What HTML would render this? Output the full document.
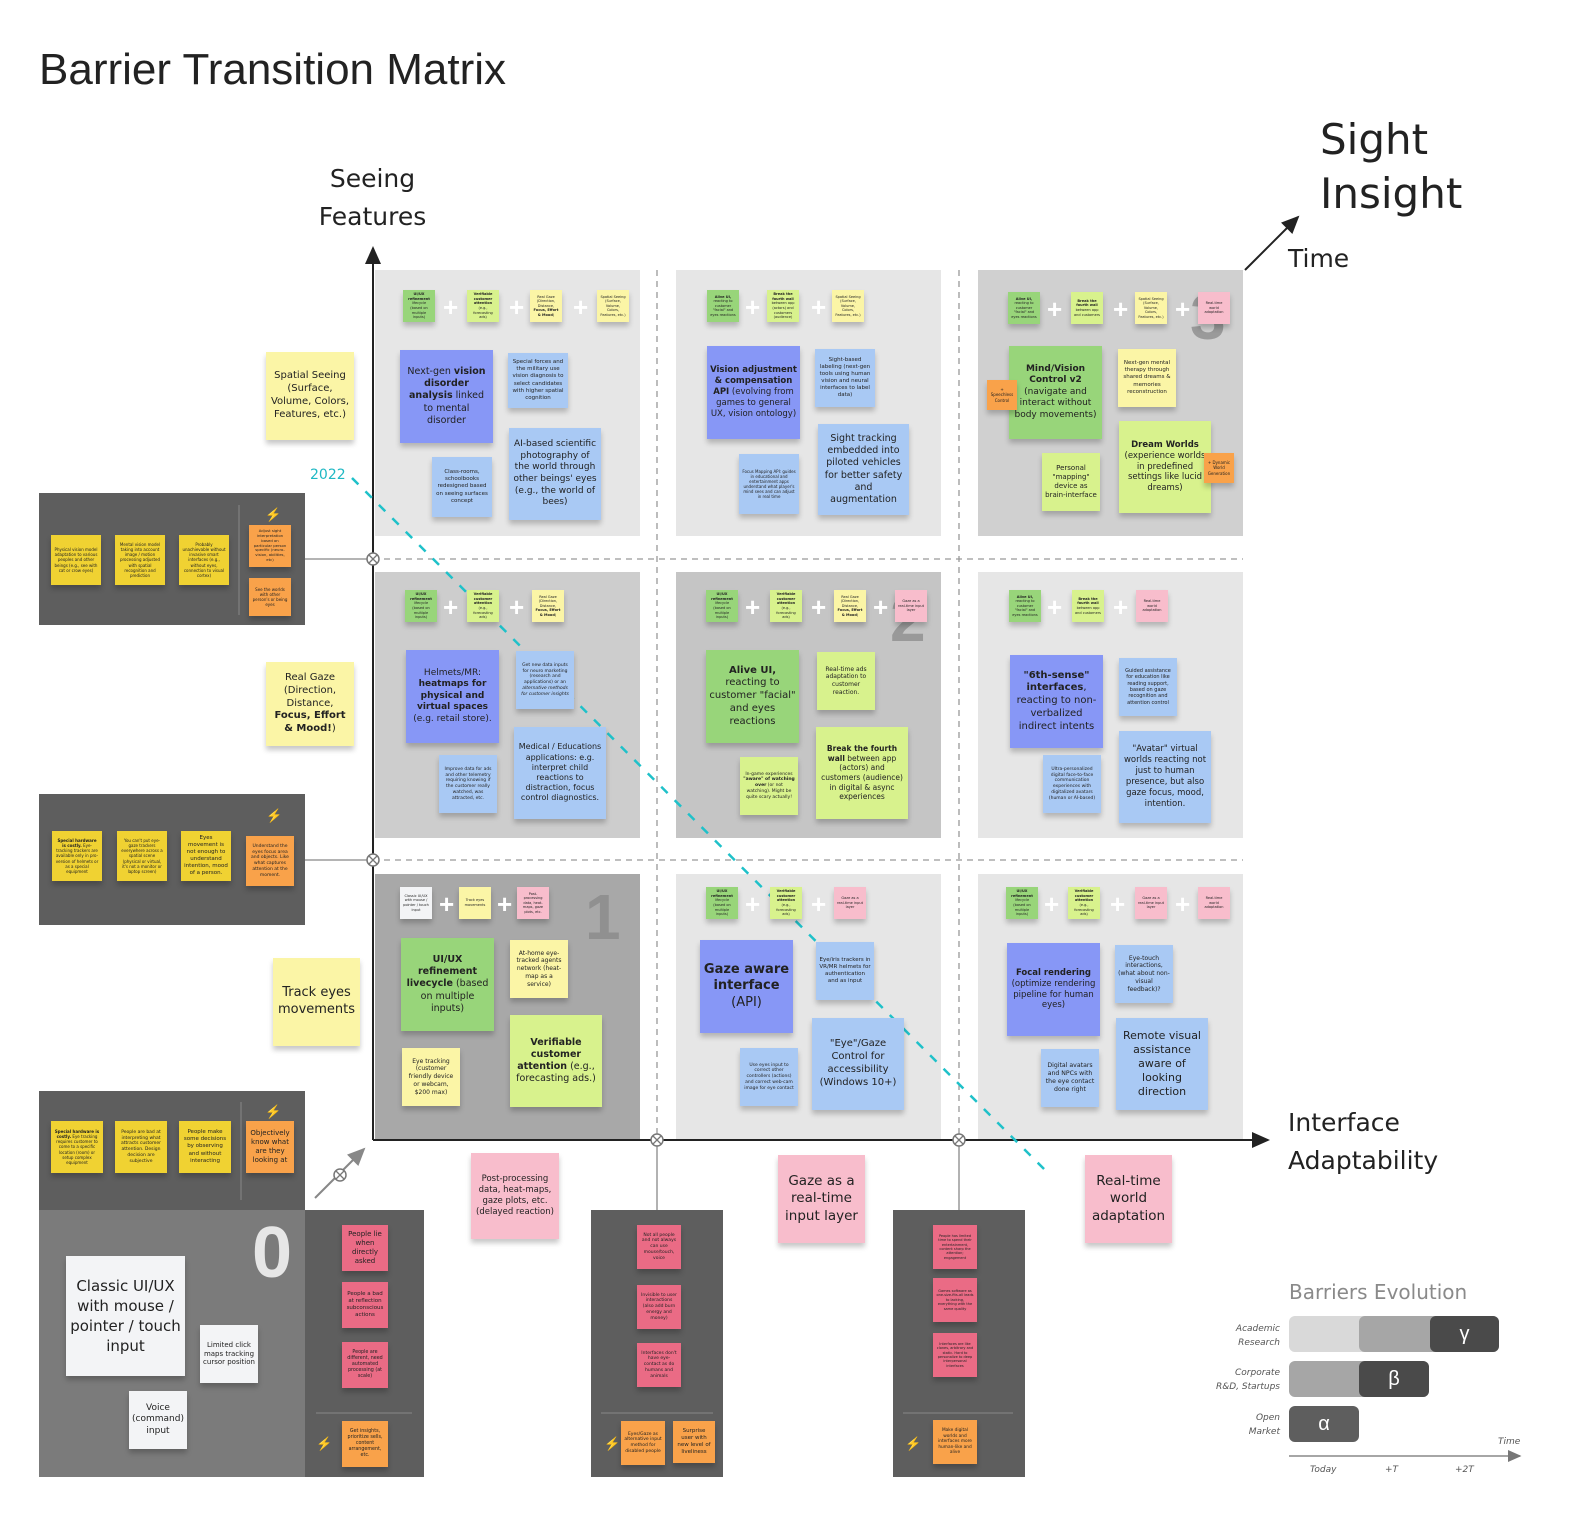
<!DOCTYPE html>
<html><head><meta charset="utf-8"><style>
html,body{margin:0;padding:0;width:1580px;height:1533px;overflow:hidden;background:#fff}
#w{position:relative;width:1580px;height:1533px;overflow:hidden;font-family:"Liberation Sans",sans-serif}
.a{position:absolute}
.p{position:absolute}
.n{position:absolute;display:flex;align-items:center;justify-content:center;text-align:center;box-shadow:0 4px 5px rgba(0,0,0,.22);color:#222;line-height:1.28;padding:3px;box-sizing:border-box;overflow:hidden;font-family:"DejaVu Sans","Liberation Sans",sans-serif}
.n>span{display:block;width:100%}
.m{width:32px;height:32px;font-size:3.5px;line-height:1.3}
.V{background:#8797f6}.B{background:#a9c9f4}.G{background:#98d57a}.L{background:#d8f28d}.Y{background:#fbf5a6}.P{background:#f8bdcc}.R{background:#ea6b85}.O{background:#f9a24a}.D{background:#f0d232}.W{background:#f3f4f6}
.pl{position:absolute;color:#fff;font-size:26px;font-weight:bold;line-height:1}
.num{position:absolute;font-size:64px;font-weight:bold;color:#8a8a8a;font-family:"Liberation Sans",sans-serif}
.bolt{position:absolute;color:#f58a2a;font-size:13px}
.t{position:absolute;color:#222;font-family:"DejaVu Sans","Liberation Sans",sans-serif;white-space:nowrap}
</style></head><body><div id="w">

<div class="p" style="left:375px;top:270px;width:265px;height:266px;background:#e6e6e6"></div>
<div class="p" style="left:676px;top:270px;width:265px;height:266px;background:#e6e6e6"></div>
<div class="p" style="left:978px;top:270px;width:265px;height:266px;background:#d0d0d0"></div>
<div class="p" style="left:375px;top:572px;width:265px;height:266px;background:#cdcdcd"></div>
<div class="p" style="left:676px;top:572px;width:265px;height:266px;background:#c5c5c5"></div>
<div class="p" style="left:978px;top:572px;width:265px;height:266px;background:#e6e6e6"></div>
<div class="p" style="left:375px;top:874px;width:265px;height:266px;background:#a8a8a8"></div>
<div class="p" style="left:676px;top:874px;width:265px;height:266px;background:#e6e6e6"></div>
<div class="p" style="left:978px;top:874px;width:265px;height:266px;background:#e6e6e6"></div>

<div class="p" style="left:39px;top:493px;width:266px;height:132px;background:#5e5e5e"></div>
<div class="p" style="left:39px;top:794px;width:266px;height:131px;background:#5e5e5e"></div>
<div class="p" style="left:39px;top:1091px;width:266px;height:119px;background:#5e5e5e"></div>
<div class="p" style="left:39px;top:1210px;width:266px;height:267px;background:#7b7b7b"></div>
<div class="p" style="left:305px;top:1210px;width:119px;height:267px;background:#5e5e5e"></div>
<div class="p" style="left:591px;top:1210px;width:132px;height:267px;background:#5e5e5e"></div>
<div class="p" style="left:893px;top:1210px;width:132px;height:267px;background:#5e5e5e"></div>

<svg class="a" style="left:0;top:0" width="1580" height="1533">
<defs><marker id="ar" markerWidth="10" markerHeight="10" refX="8" refY="5" orient="auto"><path d="M0,1 L9,5 L0,9 z" fill="#222"/></marker>
<marker id="ag" markerWidth="10" markerHeight="10" refX="8" refY="5" orient="auto"><path d="M0,1 L9,5 L0,9 z" fill="#888"/></marker>
<marker id="ag2" markerWidth="10" markerHeight="10" refX="8" refY="5" orient="auto"><path d="M0,1 L9,5 L0,9 z" fill="#777"/></marker></defs>
<line x1="373" y1="1140" x2="373" y2="248" stroke="#222" stroke-width="2" marker-end="url(#ar)"/>
<line x1="373" y1="1140" x2="1268" y2="1140" stroke="#222" stroke-width="2" marker-end="url(#ar)"/>
<g stroke="#999" stroke-width="1.3" stroke-dasharray="6,5">
<line x1="373" y1="559" x2="1243" y2="559"/><line x1="373" y1="860" x2="1243" y2="860"/>
<line x1="657" y1="270" x2="657" y2="1140"/><line x1="959" y1="270" x2="959" y2="1140"/></g>
<line x1="373" y1="559" x2="305" y2="559" stroke="#888" stroke-width="1.3"/>
<line x1="373" y1="860" x2="305" y2="860" stroke="#888" stroke-width="1.3"/>
<line x1="657" y1="1140" x2="657" y2="1210" stroke="#888" stroke-width="1.3"/>
<line x1="959" y1="1140" x2="959" y2="1210" stroke="#888" stroke-width="1.3"/>
<line x1="315" y1="1198" x2="364" y2="1149" stroke="#888" stroke-width="2" marker-end="url(#ag)"/>
<line x1="352" y1="478" x2="1045" y2="1170" stroke="#1fc1c9" stroke-width="2.5" stroke-dasharray="9,10"/>
<line x1="1245" y1="270" x2="1298" y2="217" stroke="#222" stroke-width="2" marker-end="url(#ar)"/>
<g fill="#fff" stroke="#777" stroke-width="1.5">
<circle cx="373" cy="559" r="6"/><circle cx="373" cy="860" r="6"/><circle cx="657" cy="1140" r="6"/><circle cx="959" cy="1140" r="6"/><circle cx="340" cy="1175" r="6"/></g>
<g stroke="#777" stroke-width="1.3">
<path d="M369,555 l8,8 M377,555 l-8,8"/><path d="M369,856 l8,8 M377,856 l-8,8"/><path d="M653,1136 l8,8 M661,1136 l-8,8"/><path d="M955,1136 l8,8 M963,1136 l-8,8"/><path d="M336,1171 l8,8 M344,1171 l-8,8"/></g>
<line x1="239" y1="505" x2="239" y2="615" stroke="#888"/>
<line x1="241" y1="1102" x2="241" y2="1200" stroke="#888"/>
<line x1="316" y1="1413" x2="412" y2="1413" stroke="#888"/>
<line x1="601" y1="1413" x2="713" y2="1413" stroke="#888"/>
<line x1="903" y1="1413" x2="1013" y2="1413" stroke="#888"/>
<line x1="1289" y1="1456" x2="1520" y2="1456" stroke="#888" stroke-width="1.5" marker-end="url(#ag2)"/>
</svg>

<div class="t" style="left:39px;top:45px;font-size:44px;font-family:'Liberation Sans',sans-serif">Barrier Transition Matrix</div>
<div class="t" style="left:300px;top:160px;width:145px;text-align:center;font-size:25px;line-height:38px;white-space:normal">Seeing<br>Features</div>
<div class="t" style="left:1320px;top:113px;font-size:42px;line-height:54px">Sight<br>Insight</div>
<div class="t" style="left:1288px;top:244px;font-size:25px">Time</div>
<div class="t" style="left:1288px;top:1104px;font-size:25px;line-height:38px">Interface<br>Adaptability</div>
<div class="t" style="left:310px;top:467px;font-size:14px;color:#1fb8c4">2022</div>

<div class="n Y" style="left:266px;top:352px;width:88px;height:88px;font-size:10px"><span>Spatial Seeing (Surface, Volume, Colors, Features, etc.)</span></div>
<div class="n Y" style="left:266px;top:662px;width:88px;height:84px;font-size:10px"><span>Real Gaze (Direction, Distance, <b>Focus, Effort &amp; Mood!</b>)</span></div>
<div class="n Y" style="left:273px;top:958px;width:87px;height:88px;font-size:13px"><span>Track eyes movements</span></div>
<div class="n P" style="left:471px;top:1153px;width:88px;height:86px;font-size:8.5px"><span>Post-processing data, heat-maps, gaze plots, etc. (delayed reaction)</span></div>
<div class="n P" style="left:778px;top:1155px;width:87px;height:88px;font-size:13.5px"><span>Gaze as a real-time input layer</span></div>
<div class="n P" style="left:1085px;top:1155px;width:87px;height:88px;font-size:13.5px"><span>Real-time world adaptation</span></div>

<div class="num" style="left:1190px;top:280px;color:#9a9a9a">3</div>
<div class="num" style="left:890px;top:582px;color:#999">2</div>
<div class="num" style="left:585px;top:880px;color:#909090">1</div>
<div class="num" style="left:252px;top:1212px;color:#e6e6e6;font-size:72px">0</div>

<!-- Row1 col1 -->
<div class="n G m" style="left:403px;top:290px"><span><b>UI/UX refinement</b> lifecycle (based on multiple inputs)</span></div>
<div class="pl" style="left:443px;top:294px">+</div>
<div class="n L m" style="left:467px;top:290px"><span><b>Verifiable customer attention</b> (e.g., forecasting ads)</span></div>
<div class="pl" style="left:509px;top:294px">+</div>
<div class="n Y m" style="left:530px;top:290px"><span>Real Gaze (Direction, Distance, <b>Focus, Effort &amp; Mood</b>)</span></div>
<div class="pl" style="left:573px;top:294px">+</div>
<div class="n Y m" style="left:597px;top:290px"><span>Spatial Seeing (Surface, Volume, Colors, Features, etc.)</span></div>
<div class="n V" style="left:400px;top:350px;width:93px;height:93px;font-size:9.5px"><span>Next-gen <b>vision disorder analysis</b> linked to mental disorder</span></div>
<div class="n B" style="left:508px;top:353px;width:60px;height:55px;font-size:5.5px"><span>Special forces and the military use vision diagnosis to select candidates with higher spatial cognition</span></div>
<div class="n B" style="left:432px;top:457px;width:60px;height:60px;font-size:5.5px"><span>Class-rooms, schoolbooks redesigned based on seeing surfaces concept</span></div>
<div class="n B" style="left:509px;top:428px;width:92px;height:92px;font-size:9px"><span>AI-based scientific photography of the world through other beings' eyes (e.g., the world of bees)</span></div>

<!-- Row1 col2 -->
<div class="n G m" style="left:707px;top:290px"><span><b>Alive UI,</b> reacting to customer "facial" and eyes reactions</span></div>
<div class="pl" style="left:745px;top:294px">+</div>
<div class="n L m" style="left:767px;top:290px"><span><b>Break the fourth wall</b> between app (actors) and customers (audience)</span></div>
<div class="pl" style="left:811px;top:294px">+</div>
<div class="n Y m" style="left:832px;top:290px"><span>Spatial Seeing (Surface, Volume, Colors, Features, etc.)</span></div>
<div class="n V" style="left:707px;top:346px;width:93px;height:93px;font-size:8.5px"><span><b>Vision adjustment &amp; compensation API</b> (evolving from games to general UX, vision ontology)</span></div>
<div class="n B" style="left:815px;top:349px;width:60px;height:58px;font-size:5.5px"><span>Sight-based labeling (next-gen tools using human vision and neural interfaces to label data)</span></div>
<div class="n B" style="left:739px;top:454px;width:60px;height:60px;font-size:4px"><span>Focus Mapping API: guides in educational and entertainment apps understand what player's mind sees and can adjust in real time</span></div>
<div class="n B" style="left:818px;top:424px;width:91px;height:91px;font-size:9.5px"><span>Sight tracking embedded into piloted vehicles for better safety and augmentation</span></div>

<!-- Row1 col3 -->
<div class="n G m" style="left:1008px;top:292px"><span><b>Alive UI,</b> reacting to customer "facial" and eyes reactions</span></div>
<div class="pl" style="left:1047px;top:296px">+</div>
<div class="n L m" style="left:1071px;top:292px"><span><b>Break the fourth wall</b> between app and customers</span></div>
<div class="pl" style="left:1113px;top:296px">+</div>
<div class="n Y m" style="left:1135px;top:292px"><span>Spatial Seeing (Surface, Volume, Colors, Features, etc.)</span></div>
<div class="pl" style="left:1175px;top:296px">+</div>
<div class="n P m" style="left:1198px;top:292px"><span>Real-time world adaptation</span></div>
<div class="n G" style="left:1009px;top:346px;width:93px;height:93px;font-size:9px"><span><b>Mind/Vision Control v2</b> (navigate and interact without body movements)</span></div>
<div class="n Y" style="left:1118px;top:349px;width:58px;height:58px;font-size:5.5px"><span>Next-gen mental therapy through shared dreams &amp; memories reconstruction</span></div>
<div class="n O" style="left:987px;top:380px;width:30px;height:30px;font-size:4px"><span>+ Speechless Control</span></div>
<div class="n L" style="left:1042px;top:453px;width:58px;height:58px;font-size:7px"><span>Personal "mapping" device as brain-interface</span></div>
<div class="n L" style="left:1119px;top:421px;width:92px;height:92px;font-size:8.5px"><span><b>Dream Worlds</b> (experience worlds in predefined settings like lucid dreams)</span></div>
<div class="n O" style="left:1204px;top:453px;width:30px;height:30px;font-size:4px"><span>+ Dynamic World Generation</span></div>

<!-- Row2 col1 -->
<div class="n G m" style="left:405px;top:590px"><span><b>UI/UX refinement</b> lifecycle (based on multiple inputs)</span></div>
<div class="pl" style="left:443px;top:594px">+</div>
<div class="n L m" style="left:467px;top:590px"><span><b>Verifiable customer attention</b> (e.g., forecasting ads)</span></div>
<div class="pl" style="left:509px;top:594px">+</div>
<div class="n Y m" style="left:532px;top:590px"><span>Real Gaze (Direction, Distance, <b>Focus, Effort &amp; Mood</b>)</span></div>
<div class="n V" style="left:406px;top:650px;width:93px;height:93px;font-size:9px"><span>Helmets/MR: <b>heatmaps for physical and virtual spaces</b> (e.g. retail store).</span></div>
<div class="n B" style="left:516px;top:651px;width:58px;height:58px;font-size:4.5px"><span>Get new data inputs for neuro marketing (research and applications) or an <i>alternative methods for customer insights</i></span></div>
<div class="n B" style="left:439px;top:755px;width:58px;height:58px;font-size:4.5px"><span>Improve data for ads and other telemetry requiring knowing if the customer really watched, was attracted, etc.</span></div>
<div class="n B" style="left:514px;top:727px;width:92px;height:92px;font-size:8px"><span>Medical / Educations applications: e.g. interpret child reactions to distraction, focus control diagnostics.</span></div>

<!-- Row2 col2 -->
<div class="n G m" style="left:706px;top:590px"><span><b>UI/UX refinement</b> lifecycle (based on multiple inputs)</span></div>
<div class="pl" style="left:745px;top:594px">+</div>
<div class="n L m" style="left:770px;top:590px"><span><b>Verifiable customer attention</b> (e.g., forecasting ads)</span></div>
<div class="pl" style="left:811px;top:594px">+</div>
<div class="n Y m" style="left:834px;top:590px"><span>Real Gaze (Direction, Distance, <b>Focus, Effort &amp; Mood</b>)</span></div>
<div class="pl" style="left:873px;top:594px">+</div>
<div class="n P m" style="left:895px;top:590px"><span>Gaze as a real-time input layer</span></div>
<div class="n G" style="left:706px;top:650px;width:93px;height:93px;font-size:10px"><span><b>Alive UI,</b> reacting to customer "facial" and eyes reactions</span></div>
<div class="n L" style="left:817px;top:652px;width:58px;height:58px;font-size:6px"><span>Real-time ads adaptation to customer reaction.</span></div>
<div class="n L" style="left:740px;top:757px;width:58px;height:58px;font-size:4.5px"><span>In-game experiences <b>"aware" of watching over</b> (or not watching). Might be quite scary actually!</span></div>
<div class="n L" style="left:816px;top:727px;width:92px;height:92px;font-size:7.5px"><span><b>Break the fourth wall</b> between app (actors) and customers (audience) in digital &amp; async experiences</span></div>

<!-- Row2 col3 -->
<div class="n G m" style="left:1009px;top:590px"><span><b>Alive UI,</b> reacting to customer "facial" and eyes reactions</span></div>
<div class="pl" style="left:1047px;top:594px">+</div>
<div class="n L m" style="left:1072px;top:590px"><span><b>Break the fourth wall</b> between app and customers</span></div>
<div class="pl" style="left:1113px;top:594px">+</div>
<div class="n P m" style="left:1136px;top:590px"><span>Real-time world adaptation</span></div>
<div class="n V" style="left:1010px;top:655px;width:93px;height:93px;font-size:10px"><span><b>"6th-sense" interfaces</b>, reacting to non-verbalized indirect intents</span></div>
<div class="n B" style="left:1119px;top:658px;width:58px;height:58px;font-size:5px"><span>Guided assistance for education like reading support, based on gaze recognition and attention control</span></div>
<div class="n B" style="left:1043px;top:755px;width:58px;height:58px;font-size:4.5px"><span>Ultra-personalized digital face-to-face communication experiences with digitalized avatars (human or AI-based)</span></div>
<div class="n B" style="left:1119px;top:731px;width:92px;height:92px;font-size:8.5px"><span>"Avatar" virtual worlds reacting not just to human presence, but also gaze focus, mood, intention.</span></div>

<!-- Row3 col1 -->
<div class="n W m" style="left:400px;top:887px"><span>Classic UI/UX with mouse / pointer / touch input</span></div>
<div class="pl" style="left:439px;top:891px">+</div>
<div class="n Y m" style="left:459px;top:887px"><span>Track eyes movements</span></div>
<div class="pl" style="left:497px;top:891px">+</div>
<div class="n P m" style="left:517px;top:887px"><span>Post-processing data, heat-maps, gaze plots, etc.</span></div>
<div class="n G" style="left:401px;top:938px;width:93px;height:93px;font-size:9.5px"><span><b>UI/UX refinement livecycle</b> (based on multiple inputs)</span></div>
<div class="n Y" style="left:510px;top:940px;width:58px;height:58px;font-size:6px"><span>At-home eye-tracked agents network (heat-map as a service)</span></div>
<div class="n Y" style="left:402px;top:1048px;width:58px;height:58px;font-size:6px"><span>Eye tracking (customer friendly device or webcam, $200 max)</span></div>
<div class="n L" style="left:510px;top:1015px;width:92px;height:92px;font-size:9.5px"><span><b>Verifiable customer attention</b> (e.g., forecasting ads.)</span></div>

<!-- Row3 col2 -->
<div class="n G m" style="left:706px;top:887px"><span><b>UI/UX refinement</b> lifecycle (based on multiple inputs)</span></div>
<div class="pl" style="left:745px;top:891px">+</div>
<div class="n L m" style="left:770px;top:887px"><span><b>Verifiable customer attention</b> (e.g., forecasting ads)</span></div>
<div class="pl" style="left:811px;top:891px">+</div>
<div class="n P m" style="left:834px;top:887px"><span>Gaze as a real-time input layer</span></div>
<div class="n V" style="left:700px;top:940px;width:93px;height:93px;font-size:13px"><span><b>Gaze aware interface</b> (API)</span></div>
<div class="n B" style="left:816px;top:942px;width:58px;height:58px;font-size:5.5px"><span>Eye/iris trackers in VR/MR helmets for authentication and as input</span></div>
<div class="n B" style="left:740px;top:1048px;width:58px;height:58px;font-size:4.5px"><span>Use eyes input to correct other controllers (actions) and correct web-cam image for eye contact</span></div>
<div class="n B" style="left:812px;top:1018px;width:92px;height:92px;font-size:10px"><span>"Eye"/Gaze Control for accessibility (Windows 10+)</span></div>

<!-- Row3 col3 -->
<div class="n G m" style="left:1006px;top:887px"><span><b>UI/UX refinement</b> lifecycle (based on multiple inputs)</span></div>
<div class="pl" style="left:1044px;top:891px">+</div>
<div class="n L m" style="left:1068px;top:887px"><span><b>Verifiable customer attention</b> (e.g., forecasting ads)</span></div>
<div class="pl" style="left:1110px;top:891px">+</div>
<div class="n P m" style="left:1135px;top:887px"><span>Gaze as a real-time input layer</span></div>
<div class="pl" style="left:1175px;top:891px">+</div>
<div class="n P m" style="left:1198px;top:887px"><span>Real-time world adaptation</span></div>
<div class="n V" style="left:1007px;top:943px;width:93px;height:93px;font-size:8.5px"><span><b>Focal rendering</b> (optimize rendering pipeline for human eyes)</span></div>
<div class="n B" style="left:1115px;top:945px;width:58px;height:58px;font-size:6px"><span>Eye-touch interactions, (what about non-visual feedback)?</span></div>
<div class="n B" style="left:1041px;top:1049px;width:58px;height:58px;font-size:6.2px"><span>Digital avatars and NPCs with the eye contact done right</span></div>
<div class="n B" style="left:1116px;top:1018px;width:92px;height:92px;font-size:11px"><span>Remote visual assistance aware of looking direction</span></div>

<!-- left panel gamma -->
<div class="n D" style="left:51px;top:535px;width:50px;height:50px;font-size:4px"><span>Physical vision model adaptation to various peoples and other beings (e.g., see with cat or crow eyes)</span></div>
<div class="n D" style="left:115px;top:535px;width:50px;height:50px;font-size:4px"><span>Mental vision model taking into account image / motion processing adjusted with spatial recognition and prediction</span></div>
<div class="n D" style="left:179px;top:535px;width:50px;height:50px;font-size:4px"><span>Probably unachievable without invasive smart interfaces (e.g., without eyes, connection to visual cortex)</span></div>
<div class="bolt" style="left:265px;top:507px">⚡</div>
<div class="n O" style="left:249px;top:525px;width:42px;height:42px;font-size:3.8px"><span>Adjust sight interpretation based on particular person specific (neuro-vision, abilities, etc)</span></div>
<div class="n O" style="left:249px;top:578px;width:42px;height:38px;font-size:4px"><span>See the worlds with other person's or being eyes</span></div>

<!-- panel beta -->
<div class="n D" style="left:52px;top:831px;width:50px;height:50px;font-size:4px"><span><b>Special hardware is costly.</b> Eye-tracking trackers are available only in pro-version of helmets or as a special equipment</span></div>
<div class="n D" style="left:117px;top:831px;width:50px;height:50px;font-size:4px"><span>You can't put eye-gaze trackers everywhere across a spatial scene (physical or virtual, it's not a monitor or laptop screen)</span></div>
<div class="n D" style="left:181px;top:831px;width:50px;height:50px;font-size:5.5px"><span>Eyes movement is not enough to understand intention, mood of a person.</span></div>
<div class="bolt" style="left:266px;top:808px">⚡</div>
<div class="n O" style="left:246px;top:836px;width:48px;height:50px;font-size:4.5px"><span>Understand the eyes focus area and objects. Like what captures attention at the moment.</span></div>

<!-- panel alpha top -->
<div class="n D" style="left:51px;top:1121px;width:52px;height:52px;font-size:4px"><span><b>Special hardware is costly.</b> Eye tracking requires customer to come to a specific location (room) or setup complex equipment</span></div>
<div class="n D" style="left:115px;top:1121px;width:52px;height:52px;font-size:4.5px"><span>People are bad at interpreting what attracts customer attention. Design decision are subjective</span></div>
<div class="n D" style="left:179px;top:1121px;width:52px;height:52px;font-size:5.5px"><span>People make some decisions by observing and without interacting</span></div>
<div class="bolt" style="left:265px;top:1104px">⚡</div>
<div class="n O" style="left:246px;top:1121px;width:48px;height:52px;font-size:7px"><span>Objectively know what are they looking at</span></div>

<!-- panel 0 -->
<div class="n W" style="left:66px;top:1256px;width:119px;height:120px;font-size:15px;line-height:1.35"><span>Classic UI/UX with mouse / pointer / touch input</span></div>
<div class="n W" style="left:200px;top:1325px;width:58px;height:58px;font-size:7px"><span>Limited click maps tracking cursor position</span></div>
<div class="n W" style="left:129px;top:1391px;width:58px;height:58px;font-size:9px"><span>Voice (command) input</span></div>

<!-- bottom alpha -->
<div class="n R" style="left:342px;top:1225px;width:46px;height:46px;font-size:7px"><span>People lie when directly asked</span></div>
<div class="n R" style="left:342px;top:1282px;width:46px;height:46px;font-size:5.5px"><span>People a bad at reflection subconscious actions</span></div>
<div class="n R" style="left:342px;top:1342px;width:46px;height:46px;font-size:4.8px"><span>People are different, need automated processing (at scale)</span></div>
<div class="bolt" style="left:316px;top:1436px">⚡</div>
<div class="n O" style="left:342px;top:1421px;width:46px;height:46px;font-size:4.8px"><span>Get insights, prioritize sells, content arrangement, etc.</span></div>

<!-- bottom beta -->
<div class="n R" style="left:637px;top:1225px;width:44px;height:44px;font-size:4.5px"><span>Not all people and not always can use mouse/touch, voice</span></div>
<div class="n R" style="left:637px;top:1285px;width:44px;height:44px;font-size:4.5px"><span>Invisible to user interactions (also add burn energy and money)</span></div>
<div class="n R" style="left:637px;top:1343px;width:44px;height:44px;font-size:4.5px"><span>Interfaces don't have eye-contact as do humans and animals</span></div>
<div class="bolt" style="left:604px;top:1436px">⚡</div>
<div class="n O" style="left:621px;top:1421px;width:44px;height:44px;font-size:4.5px"><span>Eyes/Gaze as alternative input method for disabled people</span></div>
<div class="n O" style="left:673px;top:1421px;width:42px;height:42px;font-size:5.5px"><span>Surprise user with new level of liveliness</span></div>

<!-- bottom gamma -->
<div class="n R" style="left:933px;top:1225px;width:44px;height:44px;font-size:3.5px"><span>People has limited time to spend their entertainment, content sharp the attention; engagement</span></div>
<div class="n R" style="left:933px;top:1278px;width:44px;height:44px;font-size:3.5px"><span>Games software as one-size-fits-all leads to lacking, everything with the same quality</span></div>
<div class="n R" style="left:933px;top:1333px;width:44px;height:44px;font-size:3.5px"><span>Interfaces are like clones, arbitrary and static. Hard to personalize to deep interpersonal interfaces</span></div>
<div class="bolt" style="left:905px;top:1436px">⚡</div>
<div class="n O" style="left:933px;top:1420px;width:44px;height:44px;font-size:4.3px"><span>Make digital worlds and interfaces more human-like and alive</span></div>

<!-- legend -->
<div class="t" style="left:1289px;top:1280px;font-size:20px;color:#8a8a8a">Barriers Evolution</div>
<div class="a" style="left:1289px;top:1316px;width:210px;height:36px;background:#d9d9d9;border-radius:6px"></div>
<div class="a" style="left:1359px;top:1316px;width:140px;height:36px;background:#a6a6a6;border-radius:6px"></div>
<div class="a" style="left:1430px;top:1316px;width:69px;height:36px;background:#4a4a4a;border-radius:6px;color:#fff;font-size:20px;text-align:center;line-height:36px">γ</div>
<div class="a" style="left:1289px;top:1361px;width:140px;height:36px;background:#a6a6a6;border-radius:6px"></div>
<div class="a" style="left:1359px;top:1361px;width:70px;height:36px;background:#4a4a4a;border-radius:6px;color:#fff;font-size:20px;text-align:center;line-height:36px">β</div>
<div class="a" style="left:1289px;top:1406px;width:70px;height:36px;background:#5e5e5e;border-radius:6px;color:#fff;font-size:20px;text-align:center;line-height:36px">α</div>
<div class="t" style="left:1200px;top:1322px;width:80px;text-align:right;font-size:9px;font-style:italic;color:#555;line-height:14px">Academic<br>Research</div>
<div class="t" style="left:1200px;top:1366px;width:80px;text-align:right;font-size:9px;font-style:italic;color:#555;line-height:14px">Corporate<br>R&amp;D, Startups</div>
<div class="t" style="left:1200px;top:1411px;width:80px;text-align:right;font-size:9px;font-style:italic;color:#555;line-height:14px">Open<br>Market</div>
<div class="t" style="left:1498px;top:1437px;font-size:9px;font-style:italic;color:#555">Time</div>
<div class="t" style="left:1310px;top:1465px;font-size:9px;font-style:italic;color:#555">Today</div>
<div class="t" style="left:1385px;top:1465px;font-size:9px;font-style:italic;color:#555">+T</div>
<div class="t" style="left:1455px;top:1465px;font-size:9px;font-style:italic;color:#555">+2T</div>
</div></body></html>
